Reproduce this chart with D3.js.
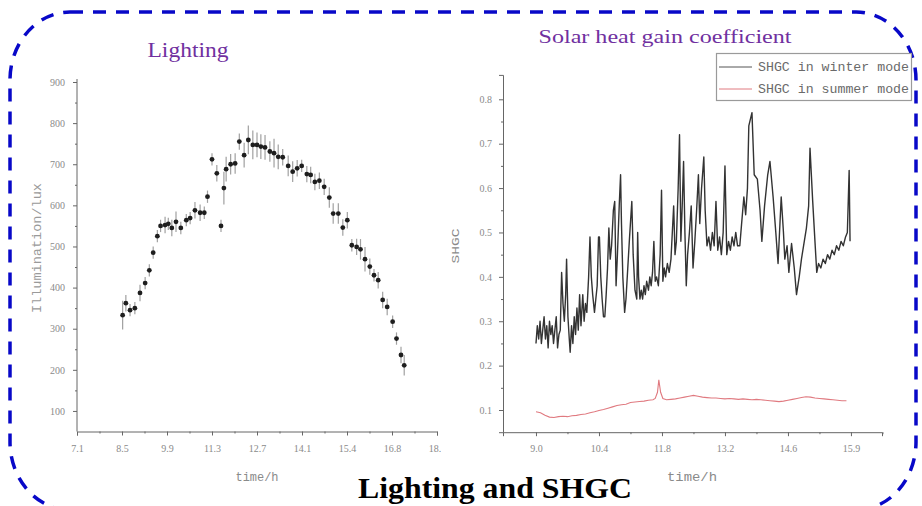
<!DOCTYPE html>
<html>
<head>
<meta charset="utf-8">
<script src="https://cdn.jsdelivr.net/npm/d3@7"></script>
<style>
  body { margin: 0; background: #fff; }
  svg { display: block; }
  .tick text { font-family: "Liberation Serif", serif; font-size: 10px; fill: #8a8a8a; }
  .domain, .tick line { stroke: #666; }
</style>
</head>
<body>
<svg width="922" height="506"></svg>
<script>
// ---- lighting (left chart) ----
const lightTime = [8.52, 8.62, 8.75, 8.90, 9.06, 9.22, 9.35, 9.47, 9.60, 9.70, 9.84, 9.94, 10.05, 10.18, 10.33,
  10.50, 10.62, 10.77, 10.93, 11.06, 11.16, 11.30, 11.45, 11.58, 11.67, 11.74, 11.88, 12.02, 12.15, 12.30,
  12.43, 12.57, 12.70, 12.82, 12.95, 13.10, 13.23, 13.36, 13.50, 13.67, 13.81, 13.95, 14.09, 14.25, 14.37,
  14.50, 14.64, 14.79, 14.95, 15.07, 15.23, 15.37, 15.51, 15.65, 15.80, 15.92, 16.06, 16.21, 16.34, 16.47,
  16.61, 16.75, 16.92, 17.04, 17.18, 17.28];
const lightLux = [333, 362, 345, 350, 387, 411, 442, 485, 525, 550, 552, 555, 545, 560, 545,
  564, 569, 588, 582, 582, 621, 712, 678, 550, 642, 688, 700, 702, 755, 722,
  759, 747, 747, 743, 741, 731, 727, 718, 717, 696, 682, 690, 696, 676, 674,
  657, 660, 645, 619, 580, 580, 546, 564, 503, 499, 493, 469, 451, 430, 418,
  370, 353, 317, 276, 236, 211];
const lightErr = [35, 20, 15, 15, 20, 15, 15, 15, 15, 15, 20, 15, 20, 25, 15,
  15, 15, 20, 20, 15, 15, 15, 20, 15, 40, 30, 25, 25, 20, 30,
  35, 35, 30, 30, 30, 25, 35, 30, 20, 25, 25, 20, 15, 20, 20,
  20, 20, 20, 25, 25, 25, 20, 20, 15, 20, 25, 30, 20, 15, 20,
  20, 20, 15, 15, 20, 25];
const lightXTicks = [7.1, 8.5, 9.9, 11.3, 12.7, 14.1, 15.5, 16.9, 18.3];
const lightXLabels = ["7.1", "8.5", "9.9", "11.3", "12.7", "14.1", "15.4", "16.8", "18.2"];
const lightXMinor = [7.8, 9.2, 10.6, 12.0, 13.4, 14.8, 16.2, 17.6];
const lightYTicks = [100, 200, 300, 400, 500, 600, 700, 800, 900];
const lightYMinor = [150, 250, 350, 450, 550, 650, 750, 850];

// ---- SHGC (right chart) ----
const winterTime = [9.00, 9.03, 9.06, 9.09, 9.12, 9.15, 9.18, 9.21, 9.24, 9.27, 9.30, 9.33, 9.36, 9.39, 9.42,
  9.45, 9.48, 9.51, 9.54, 9.57, 9.60, 9.63, 9.66, 9.68, 9.71, 9.74, 9.76, 9.79, 9.82, 9.85,
  9.88, 9.91, 9.94, 9.97, 10.00, 10.04, 10.07, 10.10, 10.13, 10.17, 10.20, 10.23, 10.26, 10.30, 10.33,
  10.36, 10.39, 10.41, 10.44, 10.47, 10.50, 10.53, 10.56, 10.59, 10.62, 10.65, 10.68, 10.72, 10.75, 10.78,
  10.81, 10.85, 10.88, 10.90, 10.93, 10.97, 11.00, 11.04, 11.08, 11.13, 11.16, 11.20, 11.24, 11.26, 11.28,
  11.31, 11.34, 11.37, 11.40, 11.43, 11.46, 11.50, 11.53, 11.56, 11.59, 11.62, 11.65, 11.68, 11.72, 11.76,
  11.79, 11.82, 11.85, 11.88, 11.92, 11.96, 12.00, 12.03, 12.06, 12.09, 12.12, 12.16, 12.19, 12.22, 12.25,
  12.28, 12.31, 12.34, 12.37, 12.41, 12.45, 12.49, 12.53, 12.57, 12.61, 12.64, 12.68, 12.73, 12.76, 12.80,
  12.84, 12.88, 12.92, 12.96, 13.00, 13.04, 13.08, 13.12, 13.16, 13.20, 13.24, 13.28, 13.32, 13.36, 13.40,
  13.44, 13.48, 13.53, 13.57, 13.62, 13.66, 13.70, 13.73, 13.80, 13.85, 13.92, 13.98, 14.02, 14.08, 14.15,
  14.20, 14.27, 14.33, 14.38, 14.45, 14.50, 14.53, 14.58, 14.62, 14.68, 14.74, 14.79, 14.85, 14.90, 15.01,
  15.06, 15.09, 15.15, 15.20, 15.24, 15.28, 15.33, 15.38, 15.43, 15.48, 15.53, 15.58, 15.63, 15.68, 15.73,
  15.78, 15.83, 15.88, 15.92, 15.96, 15.98];
const winterShgc = [0.25, 0.29, 0.26, 0.30, 0.25, 0.28, 0.31, 0.26, 0.29, 0.24, 0.30, 0.27, 0.29, 0.25, 0.28,
  0.31, 0.24, 0.27, 0.28, 0.41, 0.34, 0.30, 0.36, 0.44, 0.31, 0.26, 0.23, 0.29, 0.25, 0.31,
  0.27, 0.33, 0.28, 0.36, 0.29, 0.36, 0.30, 0.34, 0.32, 0.40, 0.49, 0.40, 0.36, 0.32, 0.35,
  0.38, 0.49, 0.49, 0.40, 0.35, 0.31, 0.31, 0.36, 0.42, 0.51, 0.44, 0.47, 0.55, 0.57, 0.38,
  0.45, 0.56, 0.63, 0.52, 0.40, 0.32, 0.35, 0.42, 0.49, 0.57, 0.45, 0.37, 0.35, 0.50, 0.40,
  0.35, 0.37, 0.35, 0.38, 0.36, 0.39, 0.37, 0.40, 0.38, 0.41, 0.48, 0.39, 0.40, 0.38, 0.45,
  0.595, 0.39, 0.42, 0.40, 0.43, 0.41, 0.44, 0.50, 0.56, 0.45, 0.48, 0.60, 0.72, 0.48, 0.56,
  0.66, 0.50, 0.38, 0.45, 0.50, 0.56, 0.42, 0.48, 0.55, 0.63, 0.52, 0.60, 0.67, 0.55, 0.47,
  0.49, 0.46, 0.50, 0.47, 0.57, 0.46, 0.49, 0.45, 0.50, 0.65, 0.45, 0.48, 0.46, 0.49, 0.47,
  0.50, 0.47, 0.47, 0.52, 0.58, 0.54, 0.60, 0.74, 0.77, 0.63, 0.62, 0.55, 0.48, 0.56, 0.63,
  0.66, 0.58, 0.50, 0.43, 0.58, 0.50, 0.44, 0.47, 0.41, 0.475, 0.42, 0.36, 0.40, 0.44, 0.51,
  0.56, 0.69, 0.57, 0.48, 0.41, 0.43, 0.42, 0.44, 0.43, 0.45, 0.44, 0.46, 0.45, 0.47, 0.46,
  0.48, 0.47, 0.49, 0.50, 0.64, 0.48];
const summerTime = [9.00, 9.10, 9.20, 9.30, 9.40, 9.50, 9.60, 9.70, 9.80, 9.90, 10.00, 10.10, 10.20, 10.30, 10.40,
  10.50, 10.60, 10.70, 10.80, 10.90, 11.00, 11.10, 11.20, 11.30, 11.40, 11.50, 11.60, 11.65, 11.70, 11.73,
  11.77, 11.82, 11.90, 12.00, 12.10, 12.20, 12.30, 12.40, 12.50, 12.60, 12.70, 12.80, 12.90, 13.00, 13.10,
  13.20, 13.30, 13.40, 13.50, 13.60, 13.70, 13.80, 13.90, 14.00, 14.10, 14.20, 14.30, 14.40, 14.50, 14.60,
  14.70, 14.80, 14.90, 15.00, 15.10, 15.20, 15.30, 15.40, 15.50, 15.60, 15.70, 15.80, 15.90];
const summerShgc = [0.096, 0.094, 0.088, 0.084, 0.083, 0.085, 0.086, 0.085, 0.087, 0.088, 0.090, 0.091, 0.094, 0.096, 0.099,
  0.101, 0.104, 0.107, 0.110, 0.112, 0.113, 0.117, 0.118, 0.119, 0.120, 0.122, 0.123, 0.126, 0.140, 0.168,
  0.140, 0.126, 0.123, 0.124, 0.125, 0.127, 0.129, 0.131, 0.133, 0.131, 0.129, 0.128, 0.127, 0.127, 0.126,
  0.125, 0.126, 0.125, 0.124, 0.125, 0.124, 0.123, 0.124, 0.123, 0.122, 0.121, 0.120, 0.119, 0.120, 0.122,
  0.124, 0.126, 0.128, 0.130, 0.129, 0.127, 0.126, 0.125, 0.124, 0.123, 0.122, 0.121, 0.121];
const shgcXTicks = [9.0, 10.4, 11.8, 13.2, 14.6, 16.0];
const shgcXLabels = ["9.0", "10.4", "11.8", "13.2", "14.6", "15.9"];
const shgcXMinor = [9.7, 11.1, 12.5, 13.9, 15.3, 16.7];
const shgcYTicks = [0.1, 0.2, 0.3, 0.4, 0.5, 0.6, 0.7, 0.8];
const shgcYMinor = [0.15, 0.25, 0.35, 0.45, 0.55, 0.65, 0.75];
const legendNames = ["SHGC in winter mode", "SHGC in summer mode"];

const svg = d3.select("svg");
const grey = "#8a8a8a";

// dashed rounded frame
svg.append("rect")
    .attr("x", 10).attr("y", 12)
    .attr("width", 906).attr("height", 498)
    .attr("rx", 60).attr("ry", 68)
    .attr("fill", "none")
    .attr("stroke", "#0808c8")
    .attr("stroke-width", 3.5)
    .attr("stroke-dasharray", "13,10");

// ---------- left chart ----------
const xL = d3.scaleLinear().domain([7.1, 18.3]).range([77, 437]);
const yL = d3.scaleLinear().domain([50, 900]).range([431.5, 82]);

svg.append("clipPath").attr("id", "leftclip")
  .append("rect").attr("x", 0).attr("y", 0).attr("width", 441).attr("height", 506);
const gL = svg.append("g").attr("clip-path", "url(#leftclip)");

gL.append("g").attr("transform", "translate(0,431.5)")
    .call(d3.axisBottom(xL).tickValues(lightXTicks).tickSize(4)
        .tickFormat((d, i) => lightXLabels[i]))
    .call(g => g.selectAll(".tick text").attr("dy", "1.3em"));
gL.append("g").attr("transform", "translate(0,431.5)")
    .call(d3.axisBottom(xL).tickValues(lightXMinor).tickSize(2).tickFormat(""))
    .call(g => g.select(".domain").remove());
gL.append("g").attr("transform", "translate(77,0)")
    .call(d3.axisLeft(yL).tickValues(lightYTicks).tickSize(4).tickPadding(8))
    .call(g => g.select(".domain").attr("d", "M0,79V431.5"));
gL.append("g").attr("transform", "translate(77,0)")
    .call(d3.axisLeft(yL).tickValues(lightYMinor).tickSize(2).tickFormat(""))
    .call(g => g.select(".domain").remove());

const lightData = lightTime.map((t, i) => ({t: t, v: lightLux[i], e: lightErr[i]}));
gL.append("g").selectAll("line")
  .data(lightData).join("line")
    .attr("x1", d => xL(d.t)).attr("x2", d => xL(d.t))
    .attr("y1", d => yL(d.v - d.e)).attr("y2", d => yL(d.v + d.e))
    .attr("stroke", "#a0a0a0").attr("stroke-width", 1.2);
gL.append("g").selectAll("circle")
  .data(lightData).join("circle")
    .attr("cx", d => xL(d.t)).attr("cy", d => yL(d.v))
    .attr("r", 2.4).attr("fill", "#1e1e1e");

svg.append("text")
    .attr("transform", "translate(41,248) rotate(-90)")
    .attr("text-anchor", "middle")
    .attr("font-family", "Liberation Mono, monospace").attr("font-size", 12)
    .attr("fill", "#9a9a9a")
    .attr("textLength", 130).attr("lengthAdjust", "spacingAndGlyphs")
    .text("Illumination/lux");
svg.append("text")
    .attr("x", 257).attr("y", 481)
    .attr("text-anchor", "middle")
    .attr("font-family", "Liberation Mono, monospace").attr("font-size", 12)
    .attr("fill", grey)
    .attr("textLength", 43).attr("lengthAdjust", "spacingAndGlyphs")
    .text("time/h");

// ---------- right chart ----------
const xR = d3.scaleLinear().domain([8.267, 16.69]).range([503, 882]);
const yR = d3.scaleLinear().domain([0.05, 0.855]).range([432.2, 74.9]);
const gR = svg.append("g");

gR.append("g").attr("transform", "translate(0,432.2)")
    .call(d3.axisBottom(xR).tickValues(shgcXTicks).tickSize(4)
        .tickFormat((d, i) => shgcXLabels[i]))
    .call(g => g.selectAll(".tick text").attr("dy", "1.3em"));
gR.append("g").attr("transform", "translate(0,432.2)")
    .call(d3.axisBottom(xR).tickValues(shgcXMinor).tickSize(2).tickFormat(""))
    .call(g => g.select(".domain").remove());
gR.append("g").attr("transform", "translate(503,0)")
    .call(d3.axisLeft(yR).tickValues(shgcYTicks).tickSize(4).tickPadding(7)
        .tickFormat(d3.format(".1f")));
gR.append("g").attr("transform", "translate(503,0)")
    .call(d3.axisLeft(yR).tickValues(shgcYMinor).tickSize(2).tickFormat(""))
    .call(g => g.select(".domain").remove());

const line = d3.line().x(d => xR(d[0])).y(d => yR(d[1]));
gR.append("path")
    .datum(winterTime.map((t, i) => [t, winterShgc[i]]))
    .attr("d", line)
    .attr("fill", "none").attr("stroke", "#333")
    .attr("stroke-width", 1.4).attr("stroke-linejoin", "round");
gR.append("path")
    .datum(summerTime.map((t, i) => [t, summerShgc[i]]))
    .attr("d", line)
    .attr("fill", "none").attr("stroke", "#e07a80")
    .attr("stroke-width", 1.1);

svg.append("text")
    .attr("transform", "translate(459,246) rotate(-90)")
    .attr("text-anchor", "middle")
    .attr("font-family", "Liberation Mono, monospace").attr("font-size", 11)
    .attr("fill", grey)
    .attr("textLength", 35).attr("lengthAdjust", "spacingAndGlyphs")
    .text("SHGC");
svg.append("text")
    .attr("x", 692).attr("y", 481)
    .attr("text-anchor", "middle")
    .attr("font-family", "Liberation Mono, monospace").attr("font-size", 12)
    .attr("fill", grey)
    .attr("textLength", 50).attr("lengthAdjust", "spacingAndGlyphs")
    .text("time/h");

// legend
const legend = svg.append("g");
legend.append("rect")
    .attr("x", 716.5).attr("y", 53.5).attr("width", 195).attr("height", 47)
    .attr("fill", "#fff").attr("stroke", "#9a9a9a").attr("stroke-width", 1.2);
const legendColors = ["#555", "#e07a80"];
legendNames.forEach((name, i) => {
  const y = 67 + i * 22;
  legend.append("line")
      .attr("x1", 719).attr("x2", 752).attr("y1", y).attr("y2", y)
      .attr("stroke", legendColors[i]).attr("stroke-width", 1);
  legend.append("text")
      .attr("x", 758).attr("y", y + 4)
      .attr("font-family", "Liberation Mono, monospace").attr("font-size", 12)
      .attr("fill", "#6a6a6a")
      .attr("textLength", 151).attr("lengthAdjust", "spacingAndGlyphs")
      .text(name);
});

// titles
svg.append("text")
    .attr("x", 188).attr("y", 57).attr("text-anchor", "middle")
    .attr("font-family", "Liberation Serif, serif").attr("font-size", 20)
    .attr("fill", "#7030a0")
    .attr("textLength", 81).attr("lengthAdjust", "spacingAndGlyphs")
    .text("Lighting");
svg.append("text")
    .attr("x", 665).attr("y", 43).attr("text-anchor", "middle")
    .attr("font-family", "Liberation Serif, serif").attr("font-size", 19)
    .attr("fill", "#7030a0")
    .attr("textLength", 253).attr("lengthAdjust", "spacingAndGlyphs")
    .text("Solar heat gain coefficient");
svg.append("text")
    .attr("x", 495).attr("y", 498).attr("text-anchor", "middle")
    .attr("font-family", "Liberation Serif, serif").attr("font-size", 29)
    .attr("font-weight", "bold").attr("fill", "#000")
    .attr("textLength", 274).attr("lengthAdjust", "spacingAndGlyphs")
    .text("Lighting and SHGC");
</script>
</body>
</html>
